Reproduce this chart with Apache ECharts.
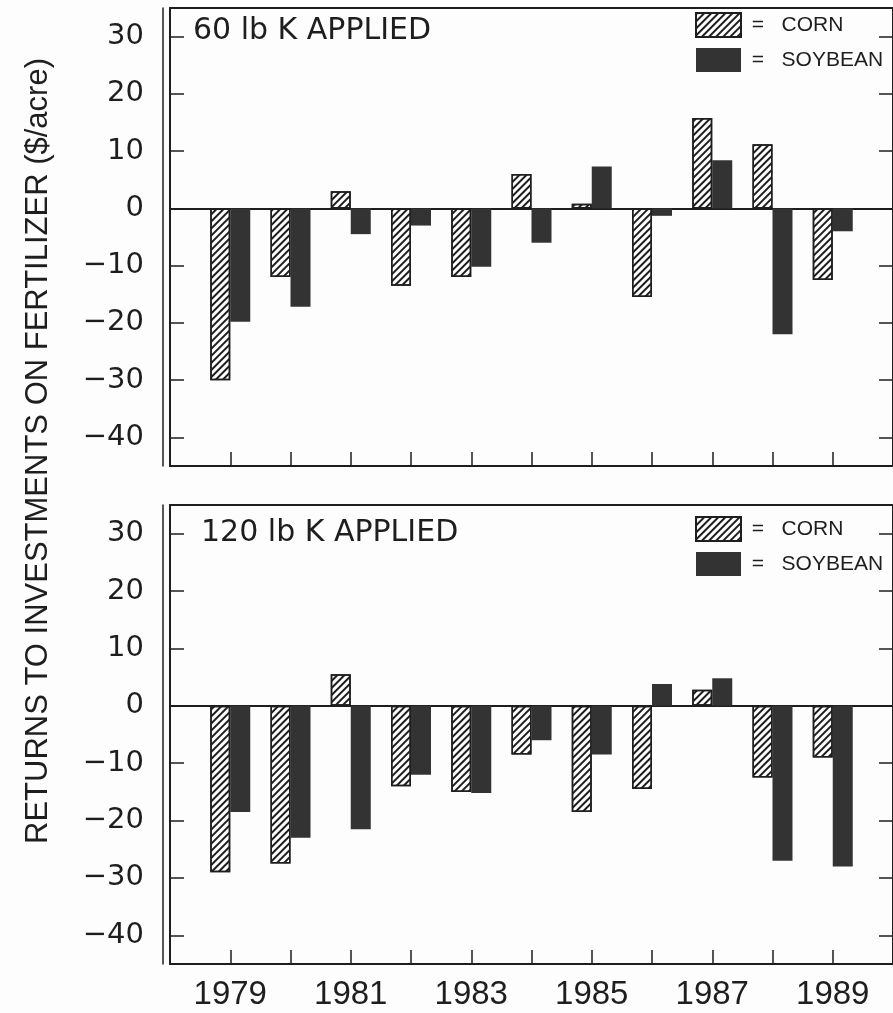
<!DOCTYPE html>
<html>
<head>
<meta charset="utf-8">
<script src="https://cdn.jsdelivr.net/npm/echarts@6/dist/echarts.min.js"></script>
<style>
  html, body { margin: 0; padding: 0; background: #fdfdfd; }
  #chart { width: 893px; height: 1013px; }
</style>
</head>
<body>
<div id="chart"></div>
<script>
// Crop years and returns ($/acre) for each potassium rate
const years = [1979, 1980, 1981, 1982, 1983, 1984, 1985, 1986, 1987, 1988, 1989];
const yearLabels = [1979, 1981, 1983, 1985, 1987, 1989];
const yTicks = [-40, -30, -20, -10, 0, 10, 20, 30];

const corn60 = [-30, -12, 3, -13.5, -12, 6, 0.8, -15.5, 15.8, 11.2, -12.5];
const soy60 = [-19.8, -17.2, -4.5, -3, -10.2, -6, 7.3, -1.3, 8.4, -22, -4];
const corn120 = [-29, -27.5, 5.5, -14, -15, -8.5, -18.5, -14.5, 2.8, -12.5, -9];
const soy120 = [-18.5, -23, -21.5, -12, -15.2, -6, -8.5, 3.8, 4.8, -27, -28];

const panelTitles = ['60 lb K APPLIED', '120 lb K APPLIED'];
const seriesNames = ['CORN', 'SOYBEAN'];

const INK = '#1e1e1e';
const SOY = '#333333';

const grids = [
  { left: 170, top: 8, width: 725, height: 458 },
  { left: 170, top: 505, width: 725, height: 459 }
];

function minusFmt(v) { return v < 0 ? '\u2212' + Math.abs(v) : String(v); }

const xAxes = [];
const yAxes = [];
grids.forEach((g, i) => {
  const base = { gridIndex: i, type: 'value', min: 1978, max: 1990, interval: 1, splitLine: { show: false } };
  // bottom frame with inward year ticks
  xAxes.push(Object.assign({}, base, {
    position: 'bottom',
    axisLine: { onZero: false, lineStyle: { color: INK, width: 2 } },
    axisTick: { inside: true, length: 14, customValues: years, lineStyle: { color: INK, width: 1.5 } },
    axisLabel: i === 1 ? {
      customValues: yearLabels, margin: 14, color: INK,
      fontFamily: 'Liberation Sans', fontSize: 33,
      formatter: v => String(v)
    } : { show: false }
  }));
  // top frame
  xAxes.push(Object.assign({}, base, {
    position: 'top',
    axisLine: { onZero: false, lineStyle: { color: INK, width: 2 } },
    axisTick: { show: false }, axisLabel: { show: false }
  }));
  // zero reference line
  xAxes.push(Object.assign({}, base, {
    position: 'bottom',
    axisLine: { onZero: true, lineStyle: { color: INK, width: 2 } },
    axisTick: { show: false }, axisLabel: { show: false }
  }));

  const ybase = { gridIndex: i, type: 'value', min: -45, max: 35, splitLine: { show: false } };
  yAxes.push(Object.assign({}, ybase, {
    position: 'left',
    axisLine: { onZero: false, lineStyle: { color: INK, width: 2 } },
    axisTick: { inside: true, length: 14, customValues: yTicks, lineStyle: { color: INK, width: 1.5 } },
    axisLabel: {
      customValues: yTicks, margin: 26, color: INK,
      fontFamily: 'DejaVu Sans', fontSize: 29, formatter: minusFmt
    }
  }));
  yAxes.push(Object.assign({}, ybase, {
    position: 'right',
    axisLine: { onZero: false, lineStyle: { color: INK, width: 2 } },
    axisTick: { inside: true, length: 14, customValues: yTicks, lineStyle: { color: INK, width: 1.5 } },
    axisLabel: { show: false }
  }));
  // outer border rule on the left
  yAxes.push(Object.assign({}, ybase, {
    position: 'left', offset: 7,
    axisLine: { onZero: false, lineStyle: { color: INK, width: 1.5 } },
    axisTick: { show: false }, axisLabel: { show: false }
  }));
});

const cornStyle = {
  color: '#ffffff',
  borderColor: INK,
  borderWidth: 1.5,
  decal: {
    symbol: 'rect',
    symbolSize: 1,
    color: INK,
    backgroundColor: null,
    dashArrayX: [1, 0],
    dashArrayY: [1.6, 3],
    rotation: -Math.PI / 4
  }
};
const soyStyle = { color: SOY, borderColor: SOY, borderWidth: 0 };

function pairs(vals) { return years.map((y, k) => [y, vals[k]]); }

const panelData = [[corn60, soy60], [corn120, soy120]];
const series = [];
panelData.forEach((pd, i) => {
  series.push({
    name: seriesNames[0], type: 'bar', xAxisIndex: i * 3, yAxisIndex: i * 3,
    barWidth: 20, barGap: '0%', itemStyle: cornStyle, data: pairs(pd[0])
  });
  series.push({
    name: seriesNames[1], type: 'bar', xAxisIndex: i * 3, yAxisIndex: i * 3,
    barWidth: 20, barGap: '0%', itemStyle: soyStyle, data: pairs(pd[1])
  });
});

const legendBase = {
  orient: 'vertical', left: 695, padding: 0,
  itemWidth: 45, itemHeight: 24, itemGap: 10,
  icon: 'rect', data: seriesNames,
  formatter: name => ' =   ' + name,
  textStyle: { fontFamily: 'Liberation Sans', fontSize: 21, color: INK },
  selectedMode: false
};

const option = {
  backgroundColor: '#fdfdfd',
  animation: false,
  grid: grids,
  xAxis: xAxes,
  yAxis: yAxes,
  series: series,
  legend: [
    Object.assign({}, legendBase, { top: 12 }),
    Object.assign({}, legendBase, { top: 516 })
  ],
  title: [
    { text: panelTitles[0], left: 193, top: 16, padding: 0,
      textStyle: { fontFamily: 'DejaVu Sans', fontSize: 30, fontWeight: 'normal', color: INK } },
    { text: panelTitles[1], left: 201, top: 518, padding: 0,
      textStyle: { fontFamily: 'DejaVu Sans', fontSize: 30, fontWeight: 'normal', color: INK } }
  ],
  graphic: [{
    type: 'text', x: 38, y: 451, rotation: Math.PI / 2,
    style: {
      text: 'RETURNS TO INVESTMENTS ON FERTILIZER ($/acre)',
      fontFamily: 'Liberation Sans', fontSize: 31, fill: INK,
      align: 'center', verticalAlign: 'middle'
    }
  }]
};

const chart = echarts.init(document.getElementById('chart'), null, { renderer: 'canvas' });
chart.setOption(option);
</script>
</body>
</html>
